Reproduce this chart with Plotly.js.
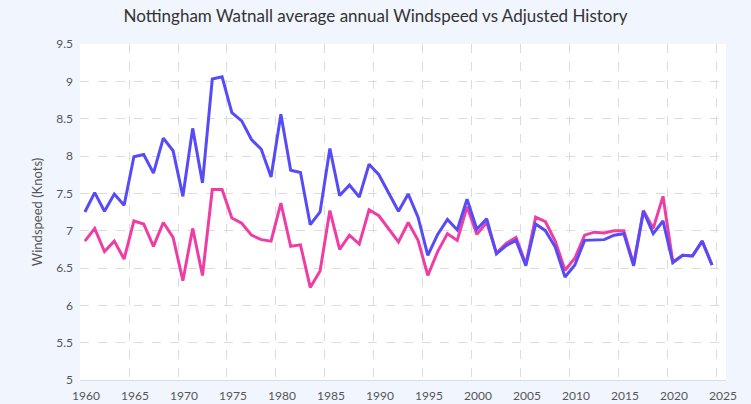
<!DOCTYPE html>
<html>
<head>
<meta charset="utf-8">
<script src="https://cdn.plot.ly/plotly-3.0.1.min.js"></script>
<style>html,body{margin:0;padding:0;background:#f1f5fd;}#chart{width:751px;height:404px;}</style>
</head>
<body>
<div id="chart"></div>
<script>
const years = [];
for (let y = 1960; y <= 2024; y++) years.push(y);

const watnall = [7.25,7.51,7.26,7.49,7.34,7.99,8.02,7.77,8.24,8.07,
  7.46,8.37,7.64,9.03,9.06,8.58,8.47,8.22,8.09,7.72,
  8.56,7.81,7.78,7.08,7.25,8.10,7.47,7.61,7.45,7.89,
  7.75,7.50,7.26,7.49,7.18,6.67,6.95,7.15,7.01,7.42,
  7.02,7.16,6.69,6.80,6.87,6.53,7.09,7.00,6.78,6.38,
  6.54,6.87,6.88,6.88,6.94,6.96,6.53,7.26,6.96,7.13,
  6.57,6.67,6.66,6.86,6.54];

const adjusted = [6.86,7.03,6.72,6.86,6.62,7.13,7.09,6.79,7.11,6.91,
  6.33,7.03,6.40,7.55,7.55,7.17,7.10,6.94,6.88,6.86,
  7.37,6.79,6.81,6.24,6.46,7.27,6.75,6.94,6.82,7.28,
  7.20,7.03,6.85,7.11,6.87,6.40,6.72,6.96,6.87,7.32,
  6.95,7.11,6.70,6.83,6.91,6.55,7.18,7.12,6.86,6.47,
  6.63,6.94,6.98,6.97,7.00,7.00,6.55,7.27,7.03,7.46,
  6.58,6.67,6.66,6.86,6.54];

const yTicks = [5,5.5,6,6.5,7,7.5,8,8.5,9,9.5];
const xTickYears = [1960,1965,1970,1975,1980,1985,1990,1995,2000,2005,2010,2015,2020,2025];

const xDates = years.map(y => y + '-07-02');
const font = "Lato, 'Noto Sans', sans-serif";

const traces = [
  {x: xDates, y: adjusted, type: 'scatter', mode: 'lines', name: 'Adjusted History',
   line: {color: '#ef3ea3', width: 3}},
  {x: xDates, y: watnall, type: 'scatter', mode: 'lines', name: 'Nottingham Watnall',
   line: {color: '#574bf7', width: 3}}
];

const layout = {
  width: 751, height: 404,
  margin: {l: 80, r: 25, t: 44, b: 24},
  paper_bgcolor: '#f1f5fd',
  plot_bgcolor: '#ffffff',
  showlegend: false,
  font: {family: font, color: '#555', size: 12},
  title: {text: 'Nottingham Watnall average annual Windspeed vs Adjusted History',
          font: {family: font, size: 17, color: '#333'}, x: 0.5, xanchor: 'center', y: 0.96, yanchor: 'middle'},
  xaxis: {
    type: 'date',
    range: ['1960-01-01', '2025-12-05'],
    tickvals: xTickYears.map(y => y + '-01-01'),
    ticktext: xTickYears.map(String),
    showgrid: true, gridcolor: '#dcdcdc', griddash: 'dash', gridwidth: 1,
    showline: true, linecolor: '#dcdcdc', linewidth: 1,
    zeroline: false, ticks: '',
    ticklabelstandoff: 5, ticklabelshift: 6,
    tickfont: {size: 12, color: '#555'}
  },
  yaxis: {
    range: [5, 9.5],
    tickvals: yTicks,
    showgrid: true, gridcolor: '#dcdcdc', griddash: 'dash', gridwidth: 1,
    zeroline: false, showline: false, ticks: '', ticklen: 0,
    ticklabelstandoff: 6,
    tickfont: {size: 12, color: '#555'},
    title: {text: 'Windspeed (Knots)', font: {size: 13, color: '#555'}, standoff: 10}
  }
};

Plotly.newPlot('chart', traces, layout, {displayModeBar: false, staticPlot: true});
</script>
</body>
</html>
